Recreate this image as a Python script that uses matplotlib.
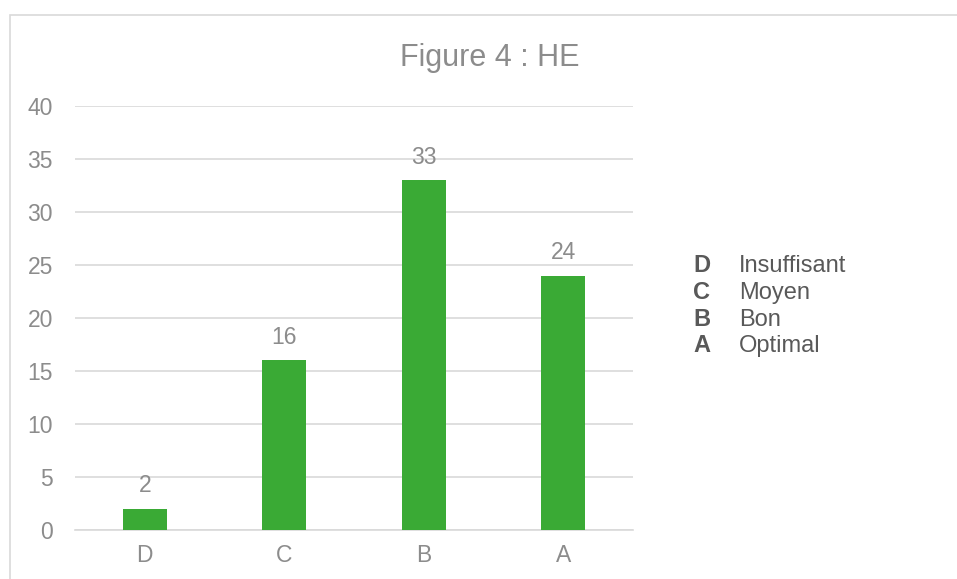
import matplotlib.pyplot as plt
from matplotlib.patches import Rectangle

categories = ['D', 'C', 'B', 'A']
values = [2, 16, 33, 24]
legend_letters = ['D', 'C', 'B', 'A']
legend_labels = ['Insuffisant', 'Moyen', 'Bon', 'Optimal']

plt.rcParams['font.family'] = ['Liberation Sans', 'DejaVu Sans']

W, H = 957, 579
fig = plt.figure(figsize=(W / 100, H / 100), dpi=100)

# cadre du graphique (coupé à droite et en bas)
fig.patches.append(Rectangle((10 / W, -0.1), 1.2, 1.1 - 15 / H, transform=fig.transFigure,
                             fill=False, edgecolor='#d9d9d9', linewidth=1.2))

ax = fig.add_axes([75 / W, 1 - 530 / H, (633 - 75) / W, (530 - 106) / H])
x = range(len(categories))
ax.bar(x, values, width=0.315, color='#3aaa35', zorder=3)
ax.set_xlim(-0.5, 3.5)
ax.set_ylim(0, 40)
ax.set_yticks(range(0, 41, 5))
ax.set_xticks(list(x))
ax.set_xticklabels(categories)
ax.grid(axis='y', color='#d9d9d9', linewidth=1.2, zorder=0)
for s in ['top', 'right', 'left']:
    ax.spines[s].set_visible(False)
ax.spines['bottom'].set_color('#d9d9d9')
ax.spines['bottom'].set_linewidth(1.2)
ax.tick_params(length=0, labelsize=16.5, labelcolor='#8c8c8c')
ax.tick_params(axis='y', pad=16)
ax.tick_params(axis='x', pad=10)

for xi, v in zip(x, values):
    ax.annotate(str(v), (xi, v), xytext=(0, 12), textcoords='offset points',
                ha='center', va='baseline', fontsize=16.5, color='#8c8c8c')

fig.text(490 / W, 1 - 66 / H, 'Figure 4 : HE', ha='center', va='baseline',
         fontsize=22, color='#8c8c8c')

for i, (l, t) in enumerate(zip(legend_letters, legend_labels)):
    yb = 1 - (272 + 26.8 * i) / H
    fig.text(693 / W, yb, l, fontsize=17, fontweight='bold', color='#595959', va='baseline')
    fig.text(739 / W, yb, t, fontsize=17, color='#595959', va='baseline')

fig.savefig('out.png', dpi=100)
